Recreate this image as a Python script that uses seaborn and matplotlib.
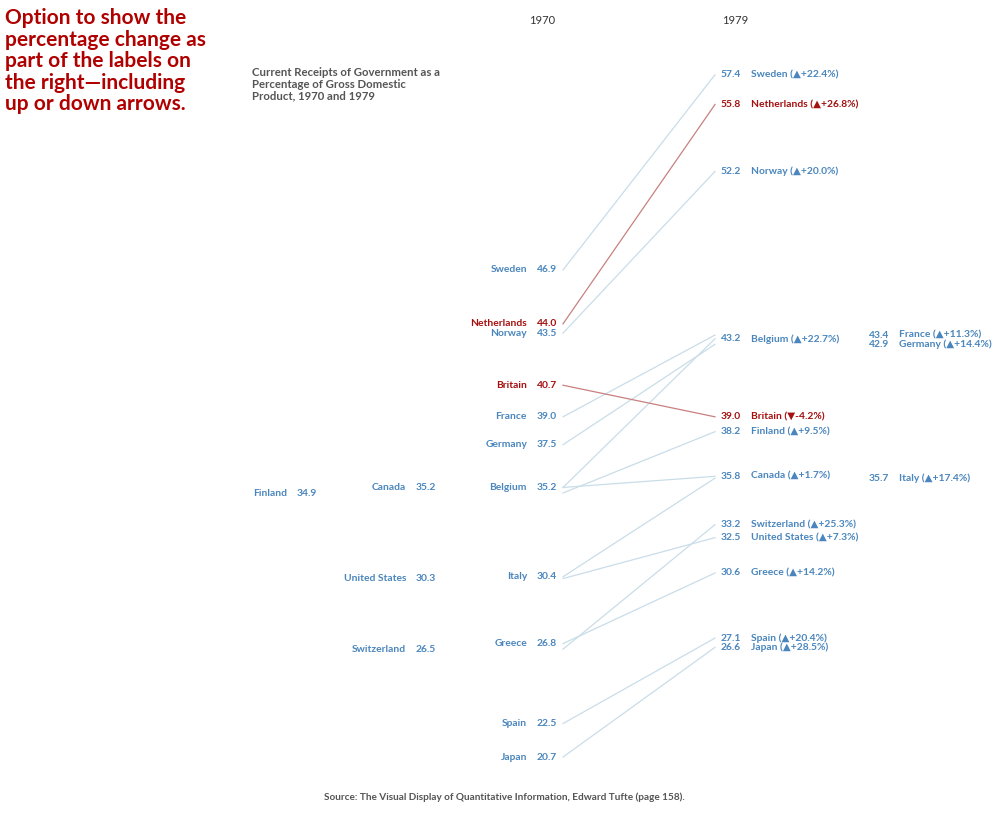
import numpy as np
import pandas as pd
import matplotlib
matplotlib.use("Agg")
import matplotlib.pyplot as plt
import seaborn as sns

countries = ["Sweden", "Netherlands", "Norway", "Britain", "France", "Germany", "Belgium",
             "Canada", "Finland", "Italy", "United States", "Greece", "Switzerland", "Spain", "Japan"]
v1970 = [46.9, 44.0, 43.5, 40.7, 39.0, 37.5, 35.2, 35.2, 34.9, 30.4, 30.3, 26.8, 26.5, 22.5, 20.7]
v1979 = [57.4, 55.8, 52.2, 39.0, 43.4, 42.9, 43.2, 35.8, 38.2, 35.7, 32.5, 30.6, 33.2, 27.1, 26.6]
pct = ["▲+22.4%", "▲+26.8%", "▲+20.0%", "▼-4.2%", "▲+11.3%", "▲+14.4%", "▲+22.7%",
       "▲+1.7%", "▲+9.5%", "▲+17.4%", "▲+7.3%", "▲+14.2%", "▲+25.3%", "▲+20.4%", "▲+28.5%"]
highlight = ["Netherlands", "Britain"]
# label column used to avoid overlaps (0 = next to axis)
left_col = {"Canada": 1, "United States": 1, "Switzerland": 1, "Finland": 2}
right_col = {"France": 1, "Germany": 1, "Italy": 1}

BLUE = "#4a86bd"
LINE = "#c9dde9"
RED = "#a50f0f"
GRAY = "#555555"
X0, X1 = 563, 715
FONT = ["Lato", "DejaVu Sans"]

df = pd.DataFrame({"country": countries * 2,
                   "x": [X0] * len(countries) + [X1] * len(countries),
                   "value": v1970 + v1979})
df["hl"] = df["country"].isin(highlight)

plt.rcParams["font.family"] = FONT
fig = plt.figure(figsize=(10.05, 8.13), dpi=100)
ax = fig.add_axes([0, 0, 1, 1])
sns.lineplot(data=df, x="x", y="value", units="country", estimator=None, hue="hl",
             palette={False: LINE, True: "#c98080"}, lw=0.9, legend=False, ax=ax)
ax.set_xlim(0, 1005)
ax.set_ylim(17.69, 61.42)
ax.axis("off")

fs = 7.4
for c, a, b, p in zip(countries, v1970, v1979, pct):
    col = RED if c in highlight else BLUE
    lx = {0: 557, 1: 436, 2: 317}[left_col.get(c, 0)]
    ax.text(lx, a, f"{a:.1f}", ha="right", va="center", color=col, fontsize=fs, fontweight="bold")
    ax.text(lx - 30, a, c, ha="right", va="center", color=col, fontsize=fs, fontweight="bold")
    rx = {0: 721, 1: 869}[right_col.get(c, 0)]
    ax.text(rx, b, f"{b:.1f}", ha="left", va="center", color=col, fontsize=fs, fontweight="bold")
    ax.text(rx + 30, b, f"{c} ({p})", ha="left", va="center", color=col, fontsize=fs, fontweight="bold")

fig.text(542 / 1005, 1 - 21 / 813, "1970", ha="center", va="center", fontsize=8, color="#333333")
fig.text(735 / 1005, 1 - 21 / 813, "1979", ha="center", va="center", fontsize=8, color="#333333")
fig.text(252 / 1005, 1 - 67 / 813,
         "Current Receipts of Government as a\nPercentage of Gross Domestic\nProduct, 1970 and 1979",
         ha="left", va="top", fontsize=8.2, color=GRAY, fontweight="bold", linespacing=1.1)
fig.text(5 / 1005, 1 - 8 / 813,
         "Option to show the\npercentage change as\npart of the labels on\nthe right\u2014including\nup or down arrows.",
         ha="left", va="top", fontsize=15, color="#b00000", fontweight="bold", linespacing=1.1)
fig.text(504 / 1005, 1 - 797 / 813,
         "Source: The Visual Display of Quantitative Information, Edward Tufte (page 158).",
         ha="center", va="center", fontsize=7.2, color=GRAY, fontweight="bold")

fig.savefig("out.png", dpi=100)
